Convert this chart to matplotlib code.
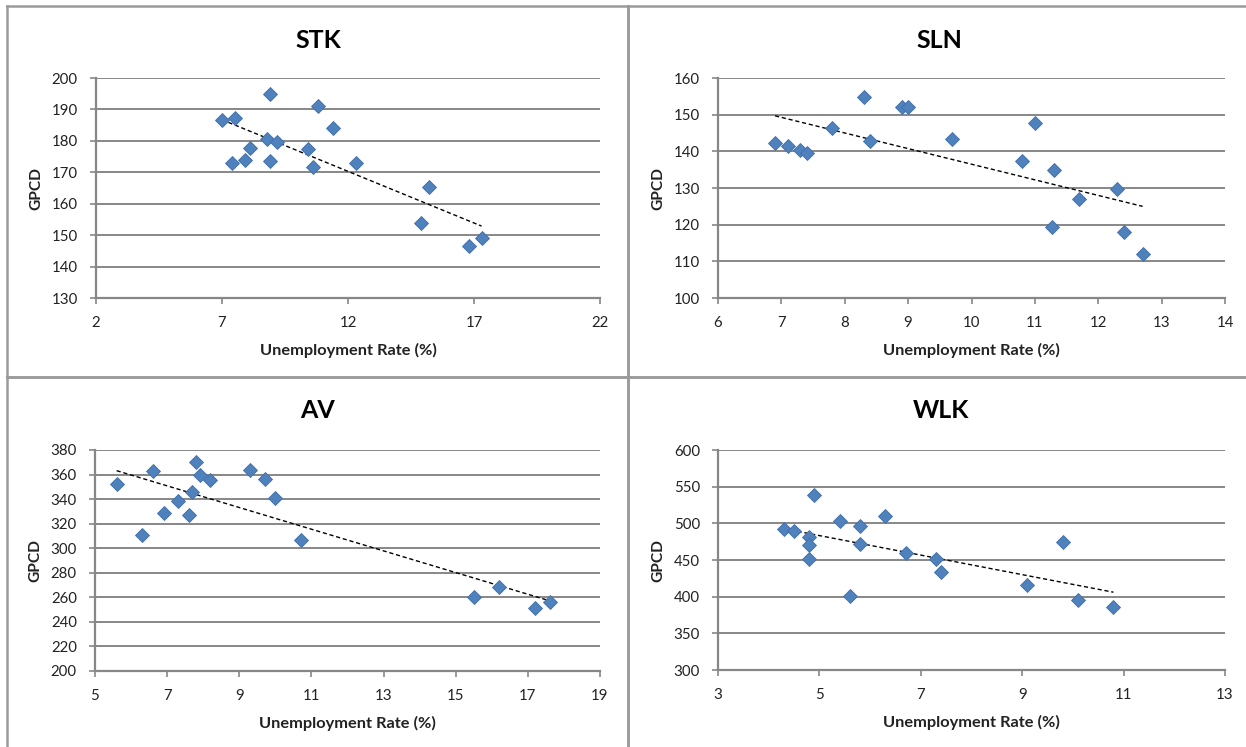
import numpy as np
import matplotlib
matplotlib.use("Agg")
import matplotlib.pyplot as plt
from matplotlib.lines import Line2D

plt.rcParams['font.family'] = ['Lato', 'DejaVu Sans']

# ---------------- data ----------------
stk_x = [7.0, 7.5, 7.4, 7.9, 8.1, 8.8, 8.9, 8.9, 9.2, 10.4, 10.6, 10.8, 11.4, 12.3, 14.9, 15.2, 16.8, 17.3]
stk_y = [186.7, 187.4, 173.0, 173.8, 177.7, 180.5, 195.0, 173.7, 179.7, 177.3, 171.7, 191.0, 184.1, 173.0, 153.9, 165.4, 146.4, 149.2]

sln_x = [6.9, 7.1, 7.3, 7.4, 7.8, 8.3, 8.4, 8.9, 9.0, 9.7, 10.8, 11.0, 11.27, 11.3, 11.7, 12.3, 12.4, 12.7]
sln_y = [142.2, 141.4, 140.3, 139.6, 146.3, 154.8, 142.7, 152.0, 152.2, 143.3, 137.5, 147.8, 119.5, 135.0, 126.9, 129.6, 118.0, 112.1]

av_x = [5.6, 6.3, 6.6, 6.9, 7.3, 7.6, 7.7, 7.8, 7.9, 8.2, 9.3, 9.7, 10.0, 10.7, 15.5, 16.2, 17.2, 17.6]
av_y = [352, 310.4, 362.5, 329, 338.3, 327, 345.4, 370, 360, 355.7, 364, 356.3, 341.3, 307, 260, 268.7, 251, 256]

wlk_x = [4.3, 4.5, 4.8, 4.8, 4.8, 4.9, 5.4, 5.6, 5.8, 5.8, 6.3, 6.7, 7.3, 7.4, 9.1, 9.8, 10.1, 10.8]
wlk_y = [492.3, 489.5, 482, 470.5, 452, 538, 503, 400.5, 496, 472.3, 510, 459, 452, 434, 415.5, 475, 396, 386.4]

titles = ["STK", "SLN", "AV", "WLK"]
x_ticks = [[2, 7, 12, 17, 22], [6, 7, 8, 9, 10, 11, 12, 13, 14], [5, 7, 9, 11, 13, 15, 17, 19], [3, 5, 7, 9, 11, 13]]
y_ticks = [list(range(130, 201, 10)), list(range(100, 161, 10)), list(range(200, 381, 20)), list(range(300, 601, 50))]
xlabel = "Unemployment Rate (%)"
ylabel = "GPCD"

# ---------------- layout (pixels) ----------------
W, H = 1246, 747
fig = plt.figure(figsize=(W / 100, H / 100), dpi=100)
fig.patch.set_facecolor("white")

def px_axes(l, t, r, b):
    return fig.add_axes([l / W, 1 - b / H, (r - l) / W, (b - t) / H])

axes_px = [(96, 78, 600, 298), (718, 78, 1225, 298), (95, 450, 600, 671), (718, 450, 1225, 670)]
panels = [(7, 6, 628, 377), (628, 6, 1254, 377), (7, 377, 628, 760), (628, 377, 1254, 760)]
title_px = [(318, 40), (939, 40), (318, 410), (941, 410)]

grid_col = "#878787"
blue = "#4F81BD"

datasets = [(stk_x, stk_y), (sln_x, sln_y), (av_x, av_y), (wlk_x, wlk_y)]

for i, (xs, ys) in enumerate(datasets):
    ax = px_axes(*axes_px[i])
    xt, yt = x_ticks[i], y_ticks[i]
    ax.set_xlim(xt[0], xt[-1])
    ax.set_ylim(yt[0], yt[-1])
    ax.set_xticks(xt)
    ax.set_yticks(yt)
    ax.tick_params(axis='both', labelsize=10.8, colors=grid_col, labelcolor="#222222",
                   length=4, width=1.2, direction='out')
    ax.tick_params(axis='x', pad=9)
    ax.tick_params(axis='y', pad=9)
    ax.yaxis.grid(True, color=grid_col, lw=1.4)
    ax.set_axisbelow(True)
    for s in ["top", "right"]:
        ax.spines[s].set_visible(False)
    for s in ["left", "bottom"]:
        ax.spines[s].set_color(grid_col)
        ax.spines[s].set_linewidth(1.6)
    ax.patch.set_alpha(0)

    xs_a, ys_a = np.array(xs), np.array(ys)
    k, c = np.polyfit(xs_a, ys_a, 1)
    xx = np.array([xs_a.min(), xs_a.max()])
    ax.plot(xx, k * xx + c, ls=(0, (3, 2)), color="black", lw=1.0, zorder=2)
    ax.plot(xs, ys, ls='none', marker='D', ms=7.5, mfc=blue, mec="#3F6FA8", mew=0.6, zorder=3, clip_on=False)

    ax.set_xlabel(xlabel, fontsize=11.8, fontweight='bold', color="#222222", labelpad=9)
    ax.set_ylabel(ylabel, fontsize=11.2, fontweight='bold', color="#222222", labelpad=6)

    tx, ty = title_px[i]
    fig.text(tx / W, 1 - ty / H, titles[i], fontsize=18, fontweight='bold', ha='center', va='center', color="black")

# panel borders
for (l, t, r, b) in panels:
    for (x0, y0, x1, y1) in [(l, t, r, t), (l, t, l, b), (r, t, r, b), (l, b, r, b)]:
        fig.add_artist(Line2D([x0 / W, x1 / W], [1 - y0 / H, 1 - y1 / H], color="#9a9a9a", lw=1.8,
                              transform=fig.transFigure))

fig.savefig("out.png", dpi=100, facecolor="white")
